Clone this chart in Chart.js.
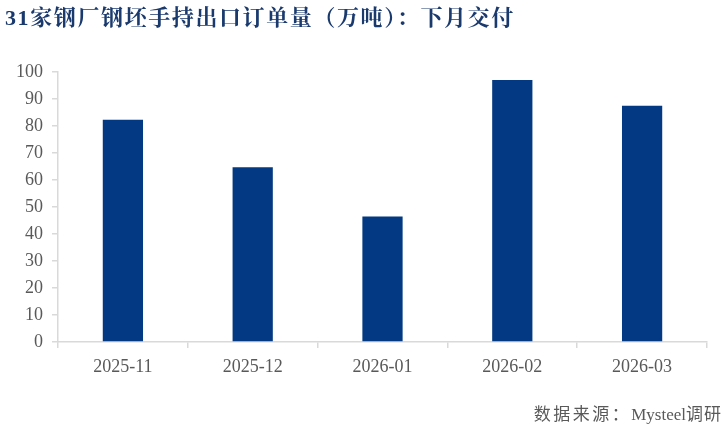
<!DOCTYPE html>
<html>
<head>
<meta charset="utf-8">
<script src="https://cdn.jsdelivr.net/npm/chart.js@4.4.1/dist/chart.umd.min.js"></script>
<style>
  html, body { margin: 0; padding: 0; background: #ffffff; }
  #wrap { position: relative; width: 726px; height: 431px; overflow: hidden; }
  #chart { position: absolute; left: 0; top: 0; }
  #title {
    position: absolute; left: 5px; top: 5px;
    font-family: "Liberation Serif", "Noto Serif CJK SC", "Noto Sans CJK SC", serif;
    font-weight: bold; font-size: 22px; line-height: 26px;
    color: #1a3a6e; white-space: nowrap; letter-spacing: 1.6px;
  }
  #source {
    position: absolute; right: 4px; top: 404px;
    font-family: "Liberation Serif", "Noto Sans CJK SC", serif;
    font-size: 17px; line-height: 22px; color: #595959; white-space: nowrap;
  }
  #source .cjk { letter-spacing: 2.5px; }
</style>
</head>
<body>
<div id="wrap">
  <canvas id="chart" width="726" height="431"></canvas>
  <div id="title">31家钢厂钢坯手持出口订单量（万吨）：下月交付</div>
  <div id="source"><span class="cjk">数据来源：</span>Mysteel<span class="cjk" style="letter-spacing:1px">调研</span></div>
</div>
<script>
// Monthly export order backlog (10k tonnes), delivery next month
const months = ["2025-11", "2025-12", "2026-01", "2026-02", "2026-03"];
const orders = [82.3, 64.7, 46.5, 97.0, 87.5];
const yTicks = [0, 10, 20, 30, 40, 50, 60, 70, 80, 90, 100];

const axisColor = "#d9d9d9";
const labelFont = { family: "Liberation Serif", size: 18 };

new Chart(document.getElementById("chart"), {
  type: "bar",
  data: {
    labels: months,
    datasets: [{
      data: orders,
      backgroundColor: "#033982",
      borderWidth: 0,
      categoryPercentage: 1.0,
      barPercentage: 0.31
    }]
  },
  options: {
    responsive: false,
    animation: false,
    devicePixelRatio: 1,
    layout: { padding: { left: 0, top: 72, right: 19, bottom: 0 } },
    plugins: { legend: { display: false }, tooltip: { enabled: false } },
    scales: {
      x: {
        grid: {
          display: true, drawOnChartArea: false, drawTicks: true,
          tickLength: 6, color: axisColor, lineWidth: 1.5, offset: true
        },
        border: { display: true, color: axisColor, width: 1.5 },
        ticks: { color: "#595959", font: labelFont, padding: 8, maxRotation: 0 },
        afterFit: s => { s.height = 89; }
      },
      y: {
        min: 0, max: 100,
        afterBuildTicks: s => { s.ticks = yTicks.map(v => ({ value: v })); },
        grid: {
          display: true, drawOnChartArea: false, drawTicks: true,
          tickLength: 6, color: axisColor, lineWidth: 1.5
        },
        border: { display: true, color: axisColor, width: 1.5 },
        ticks: { color: "#595959", font: labelFont, padding: 9 },
        afterFit: s => { s.width = 58; }
      }
    }
  }
});
</script>
</body>
</html>
